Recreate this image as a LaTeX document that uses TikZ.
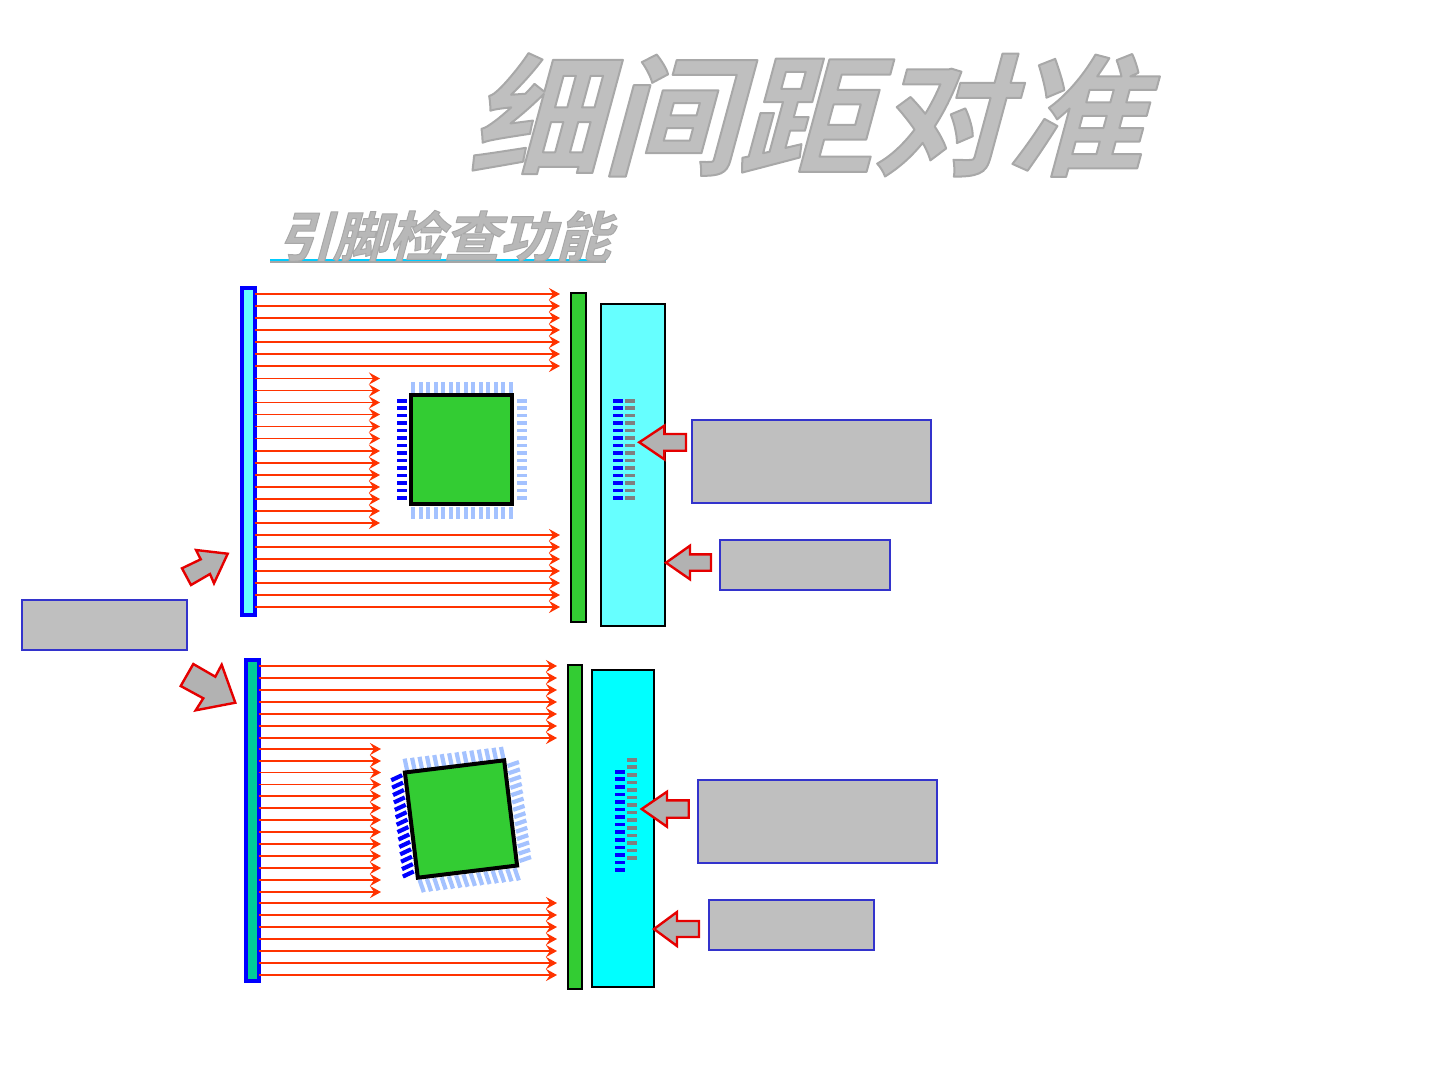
\documentclass[tikz,border=0pt]{standalone}
\usepackage{fontspec}
\usepackage{tikz}
\usetikzlibrary{arrows.meta,positioning,calc}
\newfontfamily\cjktitle[FakeSlant=0.27,FakeStretch=1.03]{Noto Sans CJK SC Bold}
\definecolor{rayred}{HTML}{FF3300}
\definecolor{padblue}{HTML}{A4C2FF}
\definecolor{chipgreen}{HTML}{33CC33}
\definecolor{boxblue}{HTML}{3333CC}
\definecolor{paleaqua}{HTML}{66FFFF}
\definecolor{aqua}{HTML}{00FFFF}
\definecolor{seagreen}{HTML}{00CC99}
\definecolor{rulecyan}{HTML}{00CCFF}
\newcommand{\pinrow}[7]{% colour, first x,y, last x,y, angle, length/thickness
  \foreach \i in {0,...,13} {
    \pgfmathsetmacro{\px}{#2+(#4-#2)*\i/13}
    \pgfmathsetmacro{\py}{#3+(#5-#3)*\i/13}
    \fill[#1, shift={(\px,\py)}, rotate=#6] #7;
  }
}
\newcommand{\hpin}{(-5,-1.8) rectangle (5,1.8)}
\newcommand{\vpin}{(-2,-6) rectangle (2,6)}
\newcommand{\hpintilt}{(-6,-2.1) rectangle (6,2.1)}
\newcommand{\vpintilt}{(-2.1,-6.5) rectangle (2.1,6.5)}
\newcommand{\outlined}[2]{\special{pdf:code q 2 Tr #1 w 1 j 0.66 0.66 0.66 RG}#2\special{pdf:code Q}}

\begin{document}
\begin{tikzpicture}[x=1pt, y=-1pt,
  panel/.style={draw=black, line width=2pt, inner sep=0pt, outer sep=0pt},
  lightbar/.style={draw=blue, line width=4pt, minimum width=13pt, inner sep=0pt, outer sep=0pt},
  chip/.style={draw=black, line width=4pt, fill=chipgreen, inner sep=0pt, outer sep=0pt},
  note/.style={draw=boxblue, line width=2pt, fill=black!25, inner sep=0pt, outer sep=0pt},
  callout/.style={draw=red!90!black, line width=2.4pt, fill=black!30, line join=miter},
  ray/.style={draw=rayred, line width=1.7pt, -{Stealth[length=11pt, width=12pt, inset=4pt]}},
  heading/.style={inner sep=0pt, text=black!25, font=\cjktitle}]
  \useasboundingbox (0,0) rectangle (1440,1080);

  \node[heading, font=\cjktitle\fontsize{131}{131}\selectfont] (title) at (805,115) {\outlined{2}{细间距对准}};
  \draw[black!35, line width=2pt] (270,262) -- (606,262);
  \draw[rulecyan, line width=2pt] (270,260) -- (606,260);
  \node[heading, font=\cjktitle\fontsize{54}{54}\selectfont, text=black!28] (subtitle) at (444,236) {\outlined{1}{引脚检查功能}};

  % upper view
  \node[lightbar, fill=paleaqua, minimum height=327pt] (barA) at (248.5,451.5) {};
  \node[panel, fill=chipgreen, minimum width=14.5pt, minimum height=329pt] (slitA) at (578.5,457.5) {};
  \node[panel, fill=paleaqua, minimum width=63.7pt, minimum height=322pt] (sensorA) at (633.2,465) {};
  \foreach \y [count=\n] in {294,306,318,330,342,354,366,535,547,559,571,583,595,607} {
    \coordinate (a\n) at (560,\y);
    \draw[ray] (barA.east |- a\n) -- (a\n);
  }
  \foreach \y [count=\n] in {378.5,390.5,402.5,414.5,426.5,438.5,451,463,475,487,499,511,523} {
    \coordinate (b\n) at (380,\y);
    \draw[ray] (barA.east |- b\n) -- (b\n);
  }
  \pinrow{padblue}{413}{388}{511}{388}{0}{\vpin}
  \pinrow{padblue}{413}{512.5}{511}{512.5}{0}{\vpin}
  \pinrow{blue}{402}{400.7}{402}{498}{0}{\hpin}
  \pinrow{padblue}{522}{400.7}{522}{498}{0}{\hpin}
  \node[chip, minimum width=101pt, minimum height=109pt] (chipA) at (461.5,449.5) {};
  \pinrow{blue}{618}{400.7}{618}{498}{0}{\hpin}
  \pinrow{black!50}{630}{400.7}{630}{498}{0}{\hpin}

  % lower view
  \node[lightbar, fill=seagreen, minimum height=321pt] (barB) at (252,820.5) {};
  \node[panel, fill=chipgreen, minimum width=14pt, minimum height=324pt] (slitB) at (575,827) {};
  \node[panel, fill=aqua, minimum width=62pt, minimum height=317pt] (sensorB) at (623,828.5) {};
  \foreach \y [count=\n] in {666,678,690,702,714,726,738,903,915,927,939,951,963,975} {
    \coordinate (c\n) at (557,\y);
    \draw[ray] (barB.east |- c\n) -- (c\n);
  }
  \foreach \y [count=\n] in {749,761,772.5,784.5,796,808,820,832,844,856,868,880,892} {
    \coordinate (d\n) at (381,\y);
    \draw[ray] (barB.east |- d\n) -- (d\n);
  }
  \pinrow{padblue}{406}{765}{502.3}{753.3}{12}{\vpintilt}
  \pinrow{padblue}{421.7}{886}{516.7}{874.3}{19}{\vpintilt}
  \pinrow{blue}{396.7}{777.7}{408.3}{874}{25}{\hpintilt}
  \pinrow{padblue}{513.3}{764}{525.3}{859}{19}{\hpintilt}
  \node[chip, rotate=7, minimum width=100pt, minimum height=106pt] (chipB) at (461,819) {};
  \pinrow{blue}{619.5}{771.7}{619.5}{870}{0}{\hpin}
  \pinrow{black!50}{631.5}{759.7}{631.5}{858}{0}{\hpin}

  % captions, left empty
  \node[note, minimum width=165pt, minimum height=50pt] (lamp) at (104.5,625) {};
  \node[note, minimum width=239pt, minimum height=83pt] (noteA) at (811.5,461.5) {};
  \node[note, minimum width=170pt, minimum height=50pt] (noteB) at (805,565) {};
  \node[note, minimum width=239pt, minimum height=83pt] (noteC) at (817.5,821.5) {};
  \node[note, minimum width=165pt, minimum height=50pt] (noteD) at (791.5,925) {};

  \draw[callout] (639.3,442.3) -- (664.3,425.7) -- (664.3,434) -- (686,434) -- (686,450.7) -- (664.3,450.7) -- (664.3,459.3) -- cycle;
  \draw[callout] (666,562.7) -- (690,545.7) -- (690,554.3) -- (711,554.3) -- (711,570.7) -- (690,570.7) -- (690,579.3) -- cycle;
  \draw[callout] (641.7,809) -- (667,791.7) -- (667,800.3) -- (688.7,800.3) -- (688.7,817.7) -- (667,817.7) -- (667,826.7) -- cycle;
  \draw[callout] (654,929) -- (677,912) -- (677,921) -- (699,921) -- (699,937) -- (677,937) -- (677,946) -- cycle;
  \draw[callout] (227.7,553.7) -- (196,550) -- (200.7,559.3) -- (182,568.3) -- (191,585) -- (210,574) -- (214,583.3) -- cycle;
  \draw[callout] (235.3,702.7) -- (221.7,664.7) -- (215.3,676.7) -- (193.3,664) -- (180.7,686) -- (203.3,698.3) -- (195.7,710.3) -- cycle;
\end{tikzpicture}
\end{document}
